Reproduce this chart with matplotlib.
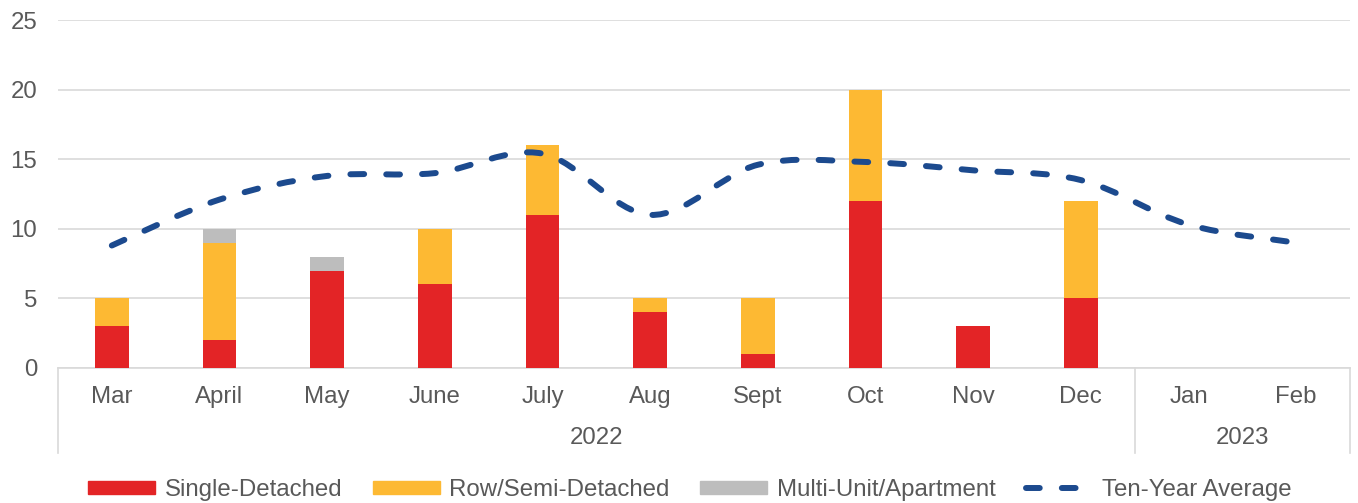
import matplotlib
matplotlib.use("Agg")
import matplotlib.pyplot as plt
from matplotlib.path import Path
from matplotlib.patches import PathPatch
from matplotlib.lines import Line2D
import numpy as np

MONTHS = ["Mar", "April", "May", "June", "July", "Aug", "Sept", "Oct", "Nov", "Dec", "Jan", "Feb"]
YEARS = ["2022", "2023"]
YEAR_SPAN = [(0, 9), (10, 11)]  # first and last month index of each year

single = [3, 2, 7, 6, 11, 4, 1, 12, 3, 5, 0, 0]
row_semi = [2, 7, 0, 4, 5, 1, 4, 8, 0, 7, 0, 0]
multi = [0, 1, 1, 0, 0, 0, 0, 0, 0, 0, 0, 0]
ten_year = [8.8, 12.1, 13.8, 14.0, 15.4, 11.0, 14.6, 14.8, 14.2, 13.5, 10.3, 9.0]

RED = "#E32426"
YELLOW = "#FDB933"
GREY = "#BDBDBD"
BLUE = "#1C4A8E"
GRID = "#D9D9D9"
TEXT = "#595959"

plt.rcParams["font.family"] = ["Liberation Sans", "DejaVu Sans"]
FS = 17.3

fig = plt.figure(figsize=(13.58, 5.03), dpi=100)
ax = fig.add_axes([58 / 1358, 1 - 368 / 503, 1292 / 1358, 348 / 503])

x = np.arange(len(MONTHS))
w = 0.31
s = np.array(single)
r = np.array(row_semi)
m = np.array(multi)
ax.bar(x, s, w, color=RED, zorder=3)
ax.bar(x, r, w, bottom=s, color=YELLOW, zorder=3)
ax.bar(x, m, w, bottom=s + r, color=GREY, zorder=3)

# smoothed ten-year average line (Catmull-Rom style bezier, like Excel)
pts = np.column_stack([x, ten_year]).astype(float)
verts = [pts[0]]
codes = [Path.MOVETO]
n = len(pts)
for i in range(n - 1):
    p0 = pts[max(i - 1, 0)]
    p1 = pts[i]
    p2 = pts[i + 1]
    p3 = pts[min(i + 2, n - 1)]
    c1 = p1 + (p2 - p0) / 6
    c2 = p2 - (p3 - p1) / 6
    verts += [c1, c2, p2]
    codes += [Path.CURVE4] * 3
line = PathPatch(Path(verts, codes), fill=False, edgecolor=BLUE, lw=4.3,
                 linestyle=(0, (2.3, 3.7)), capstyle="round", zorder=4)
ax.add_patch(line)

ax.set_xlim(-0.5, len(MONTHS) - 0.5)
ax.set_ylim(0, 25)
ax.set_yticks(range(0, 26, 5))
ax.grid(axis="y", color=GRID, lw=1.2, zorder=0)
for sp in ["top", "right", "left"]:
    ax.spines[sp].set_visible(False)
ax.spines["bottom"].set_color(GRID)
ax.spines["bottom"].set_linewidth(1.2)
ax.tick_params(axis="y", length=0, pad=15, labelsize=FS, labelcolor=TEXT)
ax.set_xticks(x)
ax.set_xticklabels(MONTHS)
ax.tick_params(axis="x", length=0, pad=13, labelsize=FS, labelcolor=TEXT)

# grouped year axis
trans = ax.get_xaxis_transform()
bottom = -85 / 348
for xb in [-0.5, YEAR_SPAN[0][1] + 0.5, len(MONTHS) - 0.5]:
    ax.plot([xb, xb], [0, bottom], color=GRID, lw=1.2, transform=trans, clip_on=False)
for yr, (a, b) in zip(YEARS, YEAR_SPAN):
    ax.text((a + b) / 2, -70 / 348, yr, transform=trans, ha="center", va="center",
            fontsize=FS, color=TEXT)

handles = [
    plt.Rectangle((0, 0), 1, 1, color=RED),
    plt.Rectangle((0, 0), 1, 1, color=YELLOW),
    plt.Rectangle((0, 0), 1, 1, color=GREY),
    Line2D([0], [0], color=BLUE, lw=4.3, linestyle=(0, (2.3, 3.7)), dash_capstyle="round"),
]
labels = ["Single-Detached", "Row/Semi-Detached", "Multi-Unit/Apartment", "Ten-Year Average"]
leg = fig.legend(handles, labels, loc="center", bbox_to_anchor=(690 / 1358, 1 - 490 / 503),
                 ncol=4, frameon=False, fontsize=FS, handlelength=2.8, handleheight=0.5,
                 handletextpad=0.4, columnspacing=1.25, borderpad=0)
for t in leg.get_texts():
    t.set_color(TEXT)

fig.savefig("out.png", dpi=100)
